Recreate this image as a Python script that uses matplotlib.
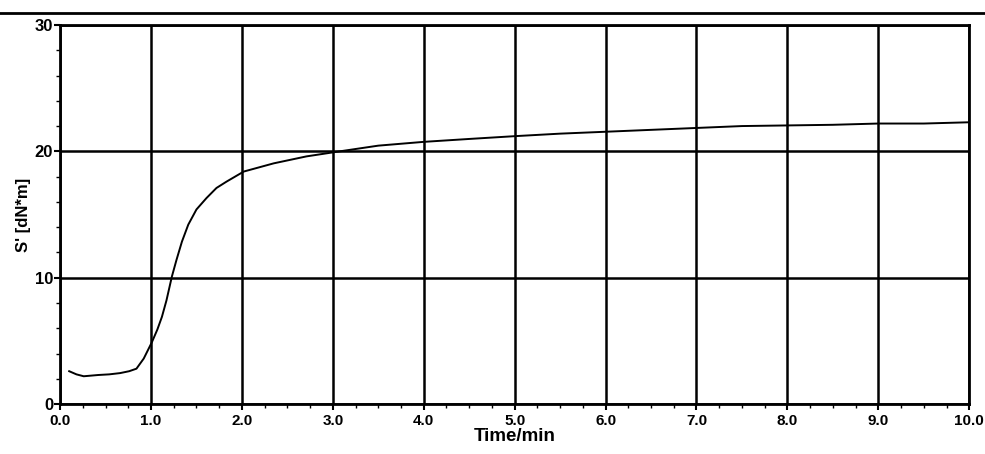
import matplotlib.pyplot as plt
from matplotlib.lines import Line2D
from matplotlib.ticker import MultipleLocator

# cure curve
time_min = [0.10, 0.18, 0.26, 0.34, 0.42, 0.54, 0.66, 0.76, 0.84, 0.92, 1.01,
            1.07, 1.12, 1.17, 1.23, 1.28, 1.34, 1.41, 1.50, 1.61, 1.72, 1.83,
            2.02, 2.35, 2.71, 3.03, 3.5, 4.0, 4.5, 5.0, 5.5, 6.0, 6.5, 7.0,
            7.5, 8.0, 8.5, 9.0, 9.5, 10.0]
torque = [2.6, 2.35, 2.2, 2.25, 2.3, 2.35, 2.45, 2.6, 2.8, 3.6, 4.9,
          5.9, 6.9, 8.2, 10.1, 11.4, 12.85, 14.2, 15.4, 16.3, 17.1, 17.6,
          18.4, 19.05, 19.6, 19.95, 20.45, 20.75, 20.98, 21.2, 21.4, 21.55,
          21.7, 21.85, 22.0, 22.05, 22.1, 22.2, 22.2, 22.3]

x_ticks = [0, 1, 2, 3, 4, 5, 6, 7, 8, 9, 10]
x_labels = ["0.0", "1.0", "2.0", "3.0", "4.0", "5.0", "6.0", "7.0", "8.0",
            "9.0", "10.0"]
y_ticks = [0, 10, 20, 30]

plt.rcParams["font.family"] = ["Liberation Sans", "DejaVu Sans"]
plt.rcParams["font.weight"] = "bold"

fig = plt.figure(figsize=(9.85, 4.54), dpi=100)
ax = fig.add_axes([0.061, 0.110, 0.923, 0.835])

ax.plot(time_min, torque, color="black", lw=1.4)

ax.set_xlim(0, 10)
ax.set_ylim(0, 30)
ax.set_xticks(x_ticks)
ax.set_xticklabels(x_labels)
ax.set_yticks(y_ticks)
ax.xaxis.set_minor_locator(MultipleLocator(0.25))
ax.yaxis.set_minor_locator(MultipleLocator(2))
ax.tick_params(which="major", length=4, width=1.5, pad=3)
ax.tick_params(axis="x", which="major", labelsize=11)
ax.tick_params(axis="y", which="major", labelsize=12, pad=1)
ax.tick_params(which="minor", length=3, width=1)

ax.grid(True, which="major", color="black", lw=1.8)
for sp in ax.spines.values():
    sp.set_linewidth(2)

ax.set_xlabel("Time/min", fontsize=13.5, fontweight="bold", labelpad=0)
ax.set_ylabel("S' [dN*m]", fontsize=12, fontweight="bold", labelpad=3)

# heavy rule across the top of the page
fig.add_artist(Line2D([0, 1], [0.971, 0.971], color="black", lw=2,
                      transform=fig.transFigure))

fig.savefig("out.png", dpi=100, facecolor="w")
